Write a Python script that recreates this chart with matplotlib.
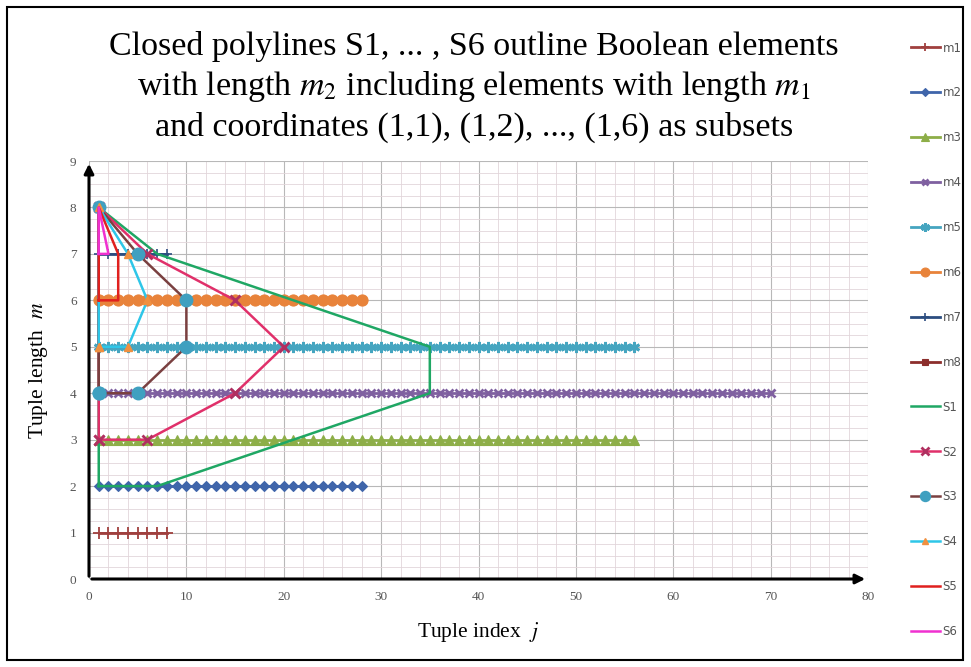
import matplotlib
matplotlib.use("Agg")
import matplotlib.pyplot as plt
from matplotlib.patches import Rectangle
from matplotlib.ticker import MultipleLocator

# ---------------- data ----------------
lengths = [1, 2, 3, 4, 5, 6, 7, 8]
counts = [8, 28, 56, 70, 56, 28, 8, 1]          # number of tuples of each length
m_labels = ["m1", "m2", "m3", "m4", "m5", "m6", "m7", "m8"]

s1_x = [1, 7, 21, 35, 35, 21, 7, 1, 1]
s1_y = [2, 2, 3, 4, 5, 6, 7, 8, 2]
s2_x = [1, 6, 15, 20, 15, 6, 1, 1]
s2_y = [3, 3, 4, 5, 6, 7, 8, 3]
s3_x = [1, 5, 10, 10, 5, 1, 1]
s3_y = [4, 4, 5, 6, 7, 8, 4]
s4_x = [1, 4, 6, 4, 1, 1]
s4_y = [5, 5, 6, 7, 8, 5]
s5_x = [1, 3, 3, 1, 1]
s5_y = [6, 6, 7, 8, 6]
s6_x = [1, 2, 1, 1]
s6_y = [7, 7, 8, 7]
s_labels = ["S1", "S2", "S3", "S4", "S5", "S6"]

x_ticks = [0, 10, 20, 30, 40, 50, 60, 70, 80]
y_ticks = [0, 1, 2, 3, 4, 5, 6, 7, 8, 9]

# ---------------- styles ----------------
m_styles = [
    dict(color="#A0403E", marker="+", ms=8, mew=1.3),
    dict(color="#3F65AA", marker="D", ms=5.5, mew=0.8),
    dict(color="#8DAE48", marker="^", ms=7, mew=0.8),
    dict(color="#7F60A0", marker="x", ms=6, mew=2.0),
    dict(color="#45A5C0", marker=(6, 2, 0), ms=8, mew=2.0),
    dict(color="#E8833A", marker="o", ms=8, mew=0.8),
    dict(color="#2C4D80", marker="+", ms=7, mew=1.2),
    dict(color="#8C2E2C", marker="s", ms=6, mew=0.8),
]
s_styles = [
    dict(color="#1FA764", marker=None),
    dict(color="#E0306A", marker="x", ms=7, mew=2.0, mec="#B03060"),
    dict(color="#7A4040", marker="o", ms=9, mfc="#3FA0C0", mec="#3FA0C0"),
    dict(color="#2EC6E8", marker="^", ms=6, mfc="#F09040", mec="#F09040"),
    dict(color="#E0201E", marker=None),
    dict(color="#F030D0", marker=None),
]

plt.rcParams["mathtext.fontset"] = "stix"
serif = ["Liberation Serif", "DejaVu Serif"]

fig = plt.figure(figsize=(9.71, 6.67), dpi=100)
W, H = 971, 667
ax = fig.add_axes([89 / W, 1 - 579 / H, (868 - 89) / W, (579 - 161) / H])

handles = []
for i, (m, c) in enumerate(zip(lengths, counts)):
    xs = list(range(1, c + 1))
    ys = [m] * c
    st = m_styles[i]
    h, = ax.plot(xs, ys, color=st["color"], lw=2, marker=st["marker"],
                 ms=st["ms"], mew=st["mew"], mfc=st["color"], mec=st["color"],
                 label=m_labels[i], zorder=3)
    handles.append(h)

s_data = [(s1_x, s1_y), (s2_x, s2_y), (s3_x, s3_y), (s4_x, s4_y), (s5_x, s5_y), (s6_x, s6_y)]
for i, (xs, ys) in enumerate(s_data):
    st = dict(s_styles[i])
    color = st.pop("color")
    marker = st.pop("marker")
    kw = dict(color=color, lw=1.8, label=s_labels[i], zorder=5 + i * 0.1)
    if marker is not None:
        kw.update(marker=marker, ms=st.get("ms", 6), mew=st.get("mew", 1),
                  mfc=st.get("mfc", color), mec=st.get("mec", color))
    h, = ax.plot(xs, ys, **kw)
    handles.append(h)

ax.set_xlim(0, 80)
ax.set_ylim(0, 9)
ax.set_xticks(x_ticks)
ax.set_yticks(y_ticks)
ax.xaxis.set_minor_locator(MultipleLocator(2))
ax.yaxis.set_minor_locator(MultipleLocator(0.25))
ax.grid(which="major", color="#B8B8B8", lw=0.8, zorder=0)
ax.grid(which="minor", color="#E2D6DA", lw=0.6, zorder=0)
ax.set_axisbelow(True)
ax.tick_params(which="both", length=0, labelsize=9.5, labelcolor="#555555", pad=9)
for lab in ax.get_xticklabels() + ax.get_yticklabels():
    lab.set_family(serif)
for sp in ax.spines.values():
    sp.set_visible(False)

# axes arrows
ax.annotate("", xy=(80, 0), xytext=(0, 0), xycoords="data",
            arrowprops=dict(arrowstyle="-|>", color="black", lw=2.2, mutation_scale=14),
            annotation_clip=False, zorder=10)
ax.annotate("", xy=(0, 9), xytext=(0, 0), xycoords="data",
            arrowprops=dict(arrowstyle="-|>", color="black", lw=2.2, mutation_scale=14),
            annotation_clip=False, zorder=10)

ax.set_xlabel(r"Tuple index  $j$", family=serif, fontsize=15.5, labelpad=12)
ax.set_ylabel(r"Tuple length  $m$", family=serif, fontsize=15.5, labelpad=14)

title_lines = [
    "Closed polylines S1, ... , S6 outline Boolean elements",
    r"with length $m_2$ including elements with length $m_1$",
    "and coordinates (1,1), (1,2), ..., (1,6) as subsets",
]
for k, t in enumerate(title_lines):
    fig.text(474 / W, 1 - (47 + 40 * k) / H, t, ha="center", va="center",
             family=serif, fontsize=24.5)

leg = fig.legend(handles=handles, loc="upper left",
                 bbox_to_anchor=(900 / W, 1 - 31 / H), frameon=False,
                 fontsize=8.5, labelspacing=2.7, handlelength=2.5,
                 handletextpad=0.2, markerscale=0.8)
for t in leg.get_texts():
    t.set_color("#555555")

fig.patches.append(Rectangle((7 / W, 1 - 660 / H), (963 - 7) / W, (660 - 7) / H,
                             transform=fig.transFigure, fill=False,
                             edgecolor="black", lw=1.5))

fig.savefig("out.png", dpi=100)
